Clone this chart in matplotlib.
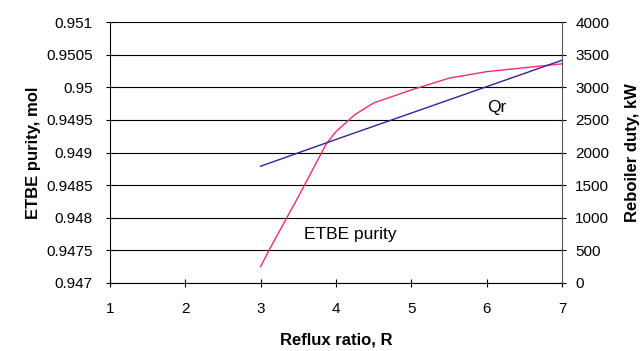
import matplotlib
matplotlib.use("Agg")
import matplotlib.pyplot as plt

plt.rcParams.update({
    "font.family": ["Liberation Sans", "DejaVu Sans"],
    "font.size": 11,
})

# reflux ratio R and ETBE purity (mol fraction)
reflux_purity = [3.0, 3.125, 3.5, 3.875, 4.0, 4.25, 4.5, 5.0, 5.5, 6.0, 7.0]
purity = [0.94725, 0.94753, 0.94832, 0.94914, 0.94932, 0.94958,
          0.94976, 0.94996, 0.95014, 0.95024, 0.95036]

# reboiler duty Qr, kW
reflux_qr = [3.0, 4.0, 5.0, 6.0, 7.0]
qr = [1790, 2200, 2605, 3010, 3415]

x_ticks = [1, 2, 3, 4, 5, 6, 7]
purity_ticks = [0.947, 0.9475, 0.948, 0.9485, 0.949, 0.9495, 0.95, 0.9505, 0.951]
purity_tick_labels = ["0.947", "0.9475", "0.948", "0.9485", "0.949",
                      "0.9495", "0.95", "0.9505", "0.951"]
qr_ticks = [0, 500, 1000, 1500, 2000, 2500, 3000, 3500, 4000]

PINK = "#ee2a7b"
NAVY = "#3a1f99"

fig = plt.figure(figsize=(6.43, 3.51), dpi=100)
ax = fig.add_axes([0.171, 0.194, 0.703, 0.743])
ax2 = ax.twinx()

ax.plot(reflux_purity, purity, color=PINK, lw=1.0, zorder=3)
ax2.plot(reflux_qr, qr, color=NAVY, lw=1.0, zorder=3)

ax.set_xlim(1, 7)
ax.set_ylim(0.947, 0.951)
ax2.set_ylim(0, 4000)
ax.set_xticks(x_ticks)
ax.set_yticks(purity_ticks)
ax.set_yticklabels(purity_tick_labels)
ax2.set_yticks(qr_ticks)

# horizontal gridlines at the left-axis ticks
for v in purity_ticks:
    ax.axhline(v, color="black", lw=0.8, zorder=1)

for a in (ax, ax2):
    a.spines["top"].set_visible(False)
ax2.spines["left"].set_visible(False)
ax2.spines["bottom"].set_visible(False)
ax.spines["right"].set_visible(False)
ax2.spines["right"].set_color("#555555")
ax.spines["left"].set_color("black")
ax.spines["bottom"].set_color("black")

ax.tick_params(axis="y", direction="inout", length=6, width=0.8, pad=9.5, labelsize=11)
ax.tick_params(axis="x", direction="inout", length=6, width=0.8, pad=11, labelsize=11)
ax2.tick_params(axis="y", direction="inout", length=6, width=0.8, pad=6.5, labelsize=11)

ax.set_xlabel("Reflux ratio, R", fontweight="bold", fontsize=12, va="center")
ax.set_ylabel("ETBE purity, mol", fontweight="bold", fontsize=12, va="center")
ax2.set_ylabel("Reboiler duty, kW", fontweight="bold", fontsize=12, va="center")
ax.xaxis.set_label_coords(0.5, -0.218)
ax.yaxis.set_label_coords(-0.170, 0.5)
ax2.yaxis.set_label_coords(1.157, 0.5)

ax.text(3.58, 0.94774, "ETBE purity", ha="left", va="center", fontsize=12.5)
ax.text(6.0, 0.94969, "Qr", ha="left", va="center", fontsize=12.5)

fig.savefig("out.png", dpi=100)
